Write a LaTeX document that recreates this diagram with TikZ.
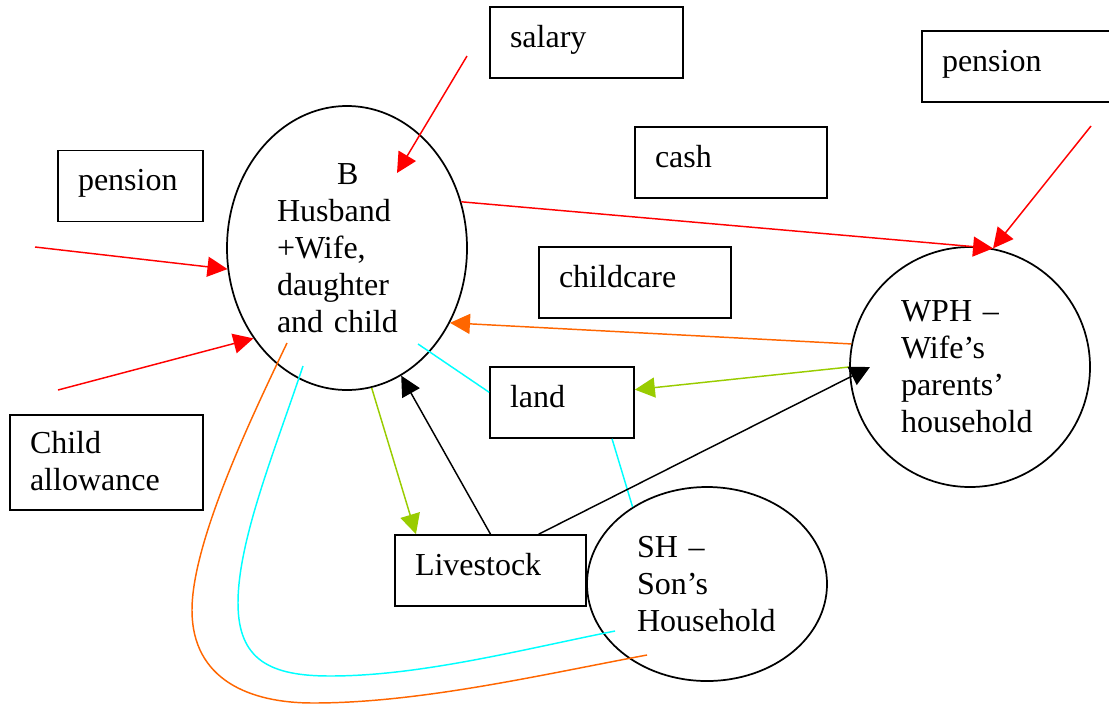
\documentclass[tikz,border=0pt]{standalone}
\usepackage{fontspec}
\setmainfont{Liberation Serif}
\usetikzlibrary{calc, arrows.meta, shapes.geometric}
\definecolor{flowred}{RGB}{255,0,0}
\definecolor{floworange}{RGB}{255,102,0}
\definecolor{flowgreen}{RGB}{153,204,0}
\definecolor{flowcyan}{RGB}{0,255,255}

\begin{document}
\begin{tikzpicture}[x=0.75pt, y=-0.75pt,
		every node/.style={font=\fontsize{24}{27.75}\selectfont},
		box/.style={draw, line width=1.3pt, rectangle, inner xsep=15pt, inner ysep=0pt, minimum height=53.25pt, text height=17pt, text depth=10pt, align=left},
		hh/.style={draw, line width=1.3pt, ellipse, inner sep=0pt, align=left},
		link/.style={line width=1.1pt},
		arr/.style={line width=1.1pt, -{Triangle[length=15pt, width=15pt]}}]
		\useasboundingbox (0,0) rectangle (1109,704);
		
		% households
		\node[hh, minimum width=180pt, minimum height=213pt, text width=105pt] (B) at (347,248)
		{\hspace*{45pt}B\\Husband\\+Wife,\\daughter\\and child};
		\node[hh, minimum width=180pt, minimum height=180pt, text width=103.5pt] (WPH) at (970,367)
		{WPH --\\Wife’s\\parents’\\household};
		\node[hh, minimum width=180pt, minimum height=145.5pt, text width=105pt] (SH) at (707,584)
		{SH --\\Son’s\\Household};
		
		% flows
		\node[box, text width=114.75pt] (salary) at (586.5,42.5) {salary};
		\node[box, text width=114.75pt] (penR) at (1018.5,66.5) {pension};
		\node[box, text width=114pt] (cash) at (731,162.5) {cash};
		\node[box, text width=78.75pt] (penL) at (130.5,186) {pension};
		\node[box, text width=114pt] (care) at (635,282.5) {childcare};
		\node[box, text width=78pt] (land) at (562,402.5) {land};
		\node[box, text width=114.75pt, minimum height=71.25pt, text depth=30.5pt] (allow) at (106.5,462.5) {Child\\allowance};
		\node[box, text width=113.25pt] (stock) at (490.5,570.5) {Livestock};
		
		\coordinate (salIn) at (467,56);
		\coordinate (penLIn) at (35,247);
		\coordinate (allowIn) at (58,390);
		\coordinate (penRIn) at (1091,126);
		
		\draw[arr, flowred] (salIn) -- ($(B.center)+(50,-75)$);
		\draw[arr, flowred] (penLIn) -- (B.190);
		\draw[arr, flowred] (allowIn) -- (B.224);
		\draw[arr, flowred] (B.22) -- (WPH.79);
		\draw[arr, flowred] (penRIn) -- (WPH.79);
		
		\draw[arr, floworange] (WPH.169) -- (B.324);
		\draw[arr, flowgreen] (WPH.180) -- (land.10);
		\draw[link, flowcyan] ($(B.center)+(71,96)$) -- (land.172);
		\draw[link, flowcyan] (land.324) -- (SH.134);
		\draw[arr, flowgreen] (B.280) -- (stock.154);
		\draw[arr] (stock.north) -- (B.293);
		\draw[arr] (stock.37) -- ($(WPH.center)+(-100,0)$);
		
		\draw[link, flowcyan] ($(B.center)+(-44,118)$) .. controls (275,450) and (238,540) .. (238,603)
		.. controls (238,660) and (270,676) .. (330,676)
		.. controls (420,676) and (520,650) .. ($(SH.center)+(-92,47)$);
		\draw[link, floworange] ($(B.center)+(-60,95)$) .. controls (255,410) and (192,540) .. (192,610)
		.. controls (192,680) and (250,703) .. (313,703)
		.. controls (420,703) and (540,675) .. ($(SH.center)+(-60,71)$);
\end{tikzpicture}
\end{document}
